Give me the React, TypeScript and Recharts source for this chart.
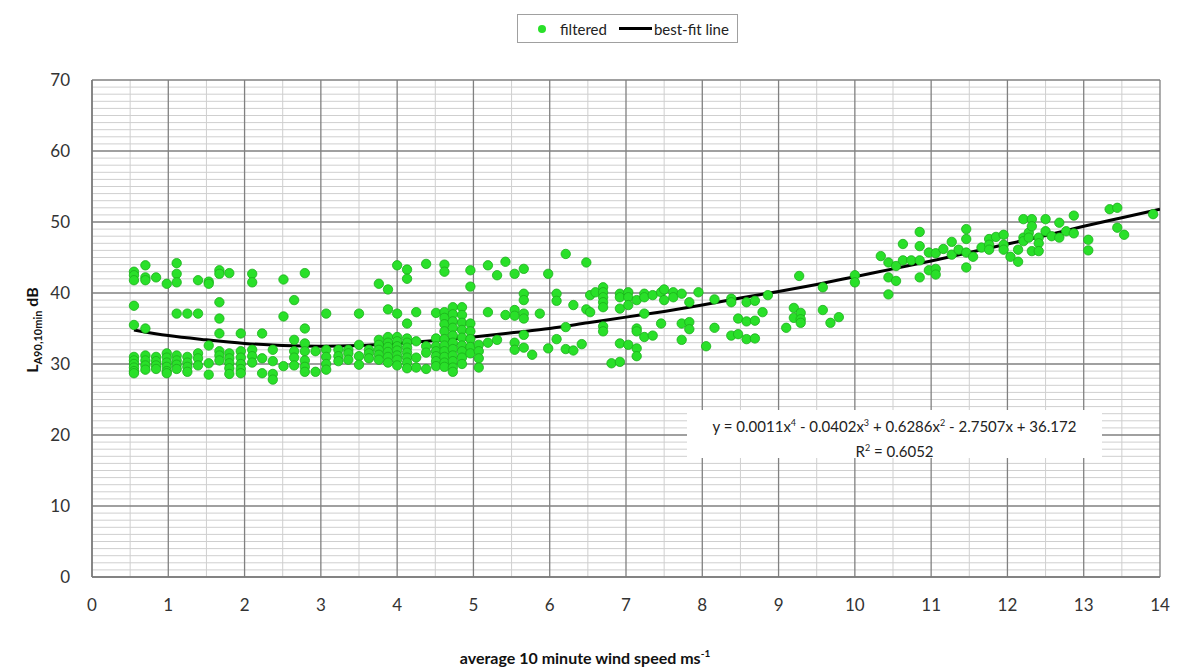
import React from 'react';
import {
  ComposedChart,
  Scatter,
  Line,
  XAxis,
  YAxis,
  CartesianGrid,
} from 'recharts';

// wind speed columns: [x, [LA90 values...]]
const lowWindCols: [number, number[]][] = [
  [0.55, [43.0, 42.5, 41.8, 38.2, 35.5, 31.0, 30.5, 30.0, 29.5, 29.0, 28.7]],
  [0.7, [43.9, 42.2, 41.8, 35.0, 31.2, 30.5, 29.8, 29.2]],
  [0.84, [42.2, 31.0, 30.4, 29.8, 29.3]],
  [0.98, [41.3, 31.5, 30.9, 30.2, 29.6, 29.0, 28.7]],
  [1.11, [44.2, 42.7, 41.5, 37.1, 31.2, 30.5, 29.9, 29.3]],
  [1.25, [37.1, 31.0, 30.2, 29.6, 28.9]],
  [1.39, [41.8, 37.1, 31.5, 30.8, 29.8]],
  [1.53, [41.6, 41.3, 32.6, 30.1, 28.5]],
  [1.67, [43.2, 42.7, 38.7, 36.4, 34.3, 31.8, 31.2, 30.5]],
  [1.8, [42.8, 31.5, 30.8, 30.1, 29.4, 28.6]],
  [1.95, [34.3, 31.8, 30.9, 30.0, 29.3, 28.7]],
  [2.1, [42.7, 41.5, 32.0, 31.1, 30.2]],
  [2.23, [34.3, 30.8, 28.7]],
  [2.37, [32.0, 30.4, 28.6, 27.8]],
  [2.51, [41.9, 36.7, 29.7]],
  [2.65, [39.0, 33.4, 31.8, 30.9, 29.8]],
  [2.79, [42.8, 35.0, 32.9, 31.8, 30.5, 29.6, 28.9]],
  [2.93, [31.8, 28.9]],
  [3.07, [37.1, 32.0, 31.0, 30.0, 29.2]],
  [3.23, [32.0, 31.1, 30.4]],
  [3.36, [32.0, 31.5, 30.6]],
  [3.5, [37.1, 32.7, 31.1, 29.9]],
  [3.63, [32.0, 31.5, 30.8]],
  [3.76, [41.3, 33.4, 32.7, 32.0, 31.3, 30.6]],
  [3.88, [40.5, 37.7, 33.8, 33.0, 32.4, 31.7, 31.0, 30.2]],
  [4.0, [43.9, 37.1, 33.8, 33.2, 32.5, 31.9, 31.2, 30.6, 29.8]],
  [4.13, [43.3, 42.0, 35.7, 33.6, 33.0, 32.3, 31.6, 30.9, 30.2, 29.4]],
  [4.25, [37.3, 33.2, 30.9, 29.5]],
  [4.38, [44.1, 32.5, 31.6, 29.3]],
  [4.51, [37.2, 33.6, 32.5, 31.8, 31.1, 30.4, 29.7]],
  [4.62, [44.0, 43.0, 37.3, 36.5, 35.6, 34.6, 33.5, 32.6, 31.8, 31.0, 30.2, 29.6]],
  [4.73, [38.0, 37.0, 36.0, 35.1, 34.0, 33.0, 32.1, 31.2, 30.4, 29.5, 28.9]],
  [4.85, [38.0, 36.9, 35.8, 34.8, 33.7, 32.6, 31.8, 30.9, 30.0]],
  [4.96, [43.2, 40.9, 35.7, 34.6, 33.5, 32.4, 31.5]],
];

const midWindCols: [number, number[]][] = [
  [5.07, [32.7, 31.8, 30.8, 29.5]],
  [5.19, [43.9, 37.3, 33.0]],
  [5.31, [42.5, 33.4]],
  [5.42, [44.4, 36.9]],
  [5.54, [42.7, 37.6, 36.8, 33.0, 32.0]],
  [5.66, [43.4, 39.9, 39.0, 37.1, 36.4, 34.1, 32.3]],
  [5.77, [31.3]],
  [5.87, [37.1]],
  [5.98, [42.7, 32.2]],
  [6.09, [39.9, 38.9, 33.5]],
  [6.21, [45.5, 35.2, 32.1]],
  [6.31, [38.3, 31.9]],
  [6.42, [32.8]],
  [6.48, [44.3, 37.7]],
  [6.53, [39.7, 37.3]],
  [6.6, [40.1]],
  [6.7, [40.8, 40.1, 39.4, 38.7, 38.0, 35.3, 34.6]],
  [6.81, [30.1]],
  [6.92, [39.9, 39.4, 37.8, 32.9, 30.3]],
  [7.03, [40.1, 39.4, 38.3, 32.7]],
  [7.14, [39.0, 35.0, 34.6, 32.2, 31.1]],
  [7.24, [39.9, 39.4, 37.1, 33.8]],
  [7.35, [39.7, 34.0]],
  [7.46, [40.1, 35.7]],
  [7.5, [40.5, 39.0]],
  [7.62, [40.1, 39.4]],
  [7.73, [39.9, 35.7, 33.4]],
  [7.83, [38.7, 35.9, 34.9]],
  [7.95, [40.1]],
  [8.05, [32.5]],
  [8.16, [39.1, 35.1]],
  [8.38, [39.2, 38.7, 34.0]],
  [8.47, [36.4, 34.2]],
  [8.58, [38.7, 36.0, 33.5]],
  [8.69, [38.9, 36.1, 33.6]],
  [8.79, [37.3]],
  [8.86, [39.7]],
];

const highWindCols: [number, number[]][] = [
  [9.1, [35.1]],
  [9.2, [37.9, 36.5]],
  [9.27, [42.4]],
  [9.29, [37.2, 36.3, 35.8]],
  [9.58, [40.8, 37.6]],
  [9.68, [35.8]],
  [9.79, [36.6]],
  [10.0, [42.5, 41.5]],
  [10.34, [45.2]],
  [10.44, [44.3, 42.2, 39.8]],
  [10.54, [43.8, 41.7]],
  [10.63, [46.9, 44.6]],
  [10.74, [44.6]],
  [10.85, [48.6, 46.6, 44.6, 42.2]],
  [10.97, [45.7, 43.2]],
  [11.06, [45.6, 43.4, 42.6]],
  [11.16, [46.2]],
  [11.27, [47.2, 45.4]],
  [11.36, [46.1]],
  [11.46, [49.0, 47.6, 45.7, 43.6]],
  [11.55, [45.1]],
  [11.66, [46.4]],
  [11.76, [47.6, 46.8, 46.1]],
  [11.85, [47.9]],
  [11.95, [48.2, 46.8, 46.1]],
  [12.04, [45.1]],
  [12.14, [46.1, 44.4]],
  [12.21, [50.4, 47.8, 47.3]],
  [12.28, [48.5, 47.8]],
  [12.32, [50.4, 49.4, 45.9]],
  [12.41, [47.8, 47.0, 45.9]],
  [12.5, [50.4, 48.7]],
  [12.58, [48.0]],
  [12.68, [49.9, 47.8]],
  [12.77, [48.7]],
  [12.87, [50.9, 48.4]],
  [13.06, [47.5, 46.0]],
  [13.34, [51.8]],
  [13.44, [52.0, 49.2]],
  [13.53, [48.2]],
  [13.91, [51.1]],
];

// best-fit curve
const fitX = [0.55, 1, 1.5, 2, 2.5, 3, 3.5, 4, 4.5, 5, 5.5, 6, 6.5, 7, 7.5, 8, 8.5, 9, 9.5, 10, 10.5, 11, 11.5, 12, 12.5, 13, 13.5, 14];
const fitY = [34.8, 34.0, 33.4, 32.9, 32.6, 32.5, 32.6, 32.9, 33.3, 33.8, 34.4, 35.0, 35.8, 36.6, 37.4, 38.3, 39.3, 40.2, 41.2, 42.3, 43.4, 44.5, 45.7, 46.9, 48.1, 49.4, 50.6, 51.8];

const xTicks = [0, 1, 2, 3, 4, 5, 6, 7, 8, 9, 10, 11, 12, 13, 14];
const yTicks = [0, 10, 20, 30, 40, 50, 60, 70];

const points = [...lowWindCols, ...midWindCols, ...highWindCols].flatMap(([x, ys]) =>
  ys.map((y) => ({ x, y }))
);
const fitLine = fitX.map((x, i) => ({ x, y: fitY[i] }));

const xMinor = xTicks.slice(0, -1).map((t) => t + 0.5);
const yMinor = Array.from({ length: 71 }, (_, i) => i).filter((v) => v % 10 !== 0);

const FONT = 'Lato, "Open Sans", sans-serif';

const Dot = (props: any) => {
  const { cx, cy } = props;
  if (cx == null || cy == null) return null;
  return <circle cx={cx} cy={cy} r={4.7} fill="#29e029" stroke="#1cae1c" strokeWidth={0.8} />;
};

export default function App() {
  return (
    <div style={{ position: 'relative', width: 1181, height: 670, background: '#fff', fontFamily: FONT }}>
      <style>{'body{margin:0;}'}</style>

      {/* legend */}
      <div
        style={{
          position: 'absolute',
          left: 517,
          top: 14,
          width: 221,
          height: 29,
          border: '1px solid #a0a0a0',
          boxSizing: 'border-box',
          display: 'flex',
          alignItems: 'center',
          fontSize: 15,
          color: '#222',
        }}
      >
        <span style={{ width: 8, height: 8, borderRadius: 4, background: '#29e029', marginLeft: 20 }} />
        <span style={{ marginLeft: 14 }}>filtered</span>
        <span style={{ width: 33, height: 2.5, background: '#000', marginLeft: 12 }} />
        <span style={{ marginLeft: 2 }}>best-fit line</span>
      </div>

      <ComposedChart
        width={1181}
        height={670}
        margin={{ top: 80, right: 21, bottom: 63, left: 32 }}
      >
        <CartesianGrid
          horizontalValues={yMinor}
          verticalValues={xMinor}
          stroke="#cfcfcf"
          strokeWidth={1}
        />
        <CartesianGrid
          horizontalValues={yTicks}
          verticalValues={xTicks}
          stroke="#808080"
          strokeWidth={1.3}
        />
        <XAxis
          type="number"
          dataKey="x"
          domain={[0, 14]}
          ticks={xTicks}
          allowDataOverflow
          interval={0}
          height={30}
          axisLine={{ stroke: '#7a7a7a', strokeWidth: 1.5 }}
          tickLine={false}
          tickSize={0}
          tickMargin={22}
          tick={{ fill: '#333', fontSize: 17, fontFamily: FONT }}
        />
        <YAxis
          type="number"
          dataKey="y"
          domain={[0, 70]}
          ticks={yTicks}
          allowDataOverflow
          interval={0}
          width={60}
          axisLine={{ stroke: '#7a7a7a', strokeWidth: 1.5 }}
          tickLine={false}
          tickSize={0}
          tickMargin={22}
          tick={{ fill: '#333', fontSize: 17, fontFamily: FONT }}
        />
        <Scatter data={points} shape={<Dot />} isAnimationActive={false} />
        <Line
          data={fitLine}
          dataKey="y"
          type="monotone"
          stroke="#000"
          strokeWidth={3}
          dot={false}
          activeDot={false}
          isAnimationActive={false}
        />
      </ComposedChart>

      {/* equation box */}
      <div
        style={{
          position: 'absolute',
          left: 687,
          top: 410,
          width: 415,
          height: 48,
          background: '#fff',
          textAlign: 'center',
          fontSize: 15,
          color: '#222',
          lineHeight: '22px',
          paddingTop: 2,
          boxSizing: 'border-box',
        }}
      >
        <div>
          y = 0.0011x<sup style={{ fontSize: 9 }}>4</sup> - 0.0402x<sup style={{ fontSize: 9 }}>3</sup> + 0.6286x
          <sup style={{ fontSize: 9 }}>2</sup> - 2.7507x + 36.172
        </div>
        <div>
          R<sup style={{ fontSize: 9 }}>2</sup> = 0.6052
        </div>
      </div>

      {/* y axis title */}
      <div
        style={{
          position: 'absolute',
          left: 33,
          top: 330,
          transform: 'translate(-50%, -50%) rotate(-90deg)',
          whiteSpace: 'nowrap',
          fontWeight: 700,
          fontSize: 16,
          color: '#111',
        }}
      >
        L<sub style={{ fontSize: 11 }}>A90,10min</sub> dB
      </div>

      {/* x axis title */}
      <div
        style={{
          position: 'absolute',
          left: 585,
          top: 657,
          transform: 'translate(-50%, -50%)',
          whiteSpace: 'nowrap',
          fontWeight: 700,
          fontSize: 16,
          color: '#111',
        }}
      >
        average 10 minute wind speed ms<sup style={{ fontSize: 10 }}>-1</sup>
      </div>
    </div>
  );
}
